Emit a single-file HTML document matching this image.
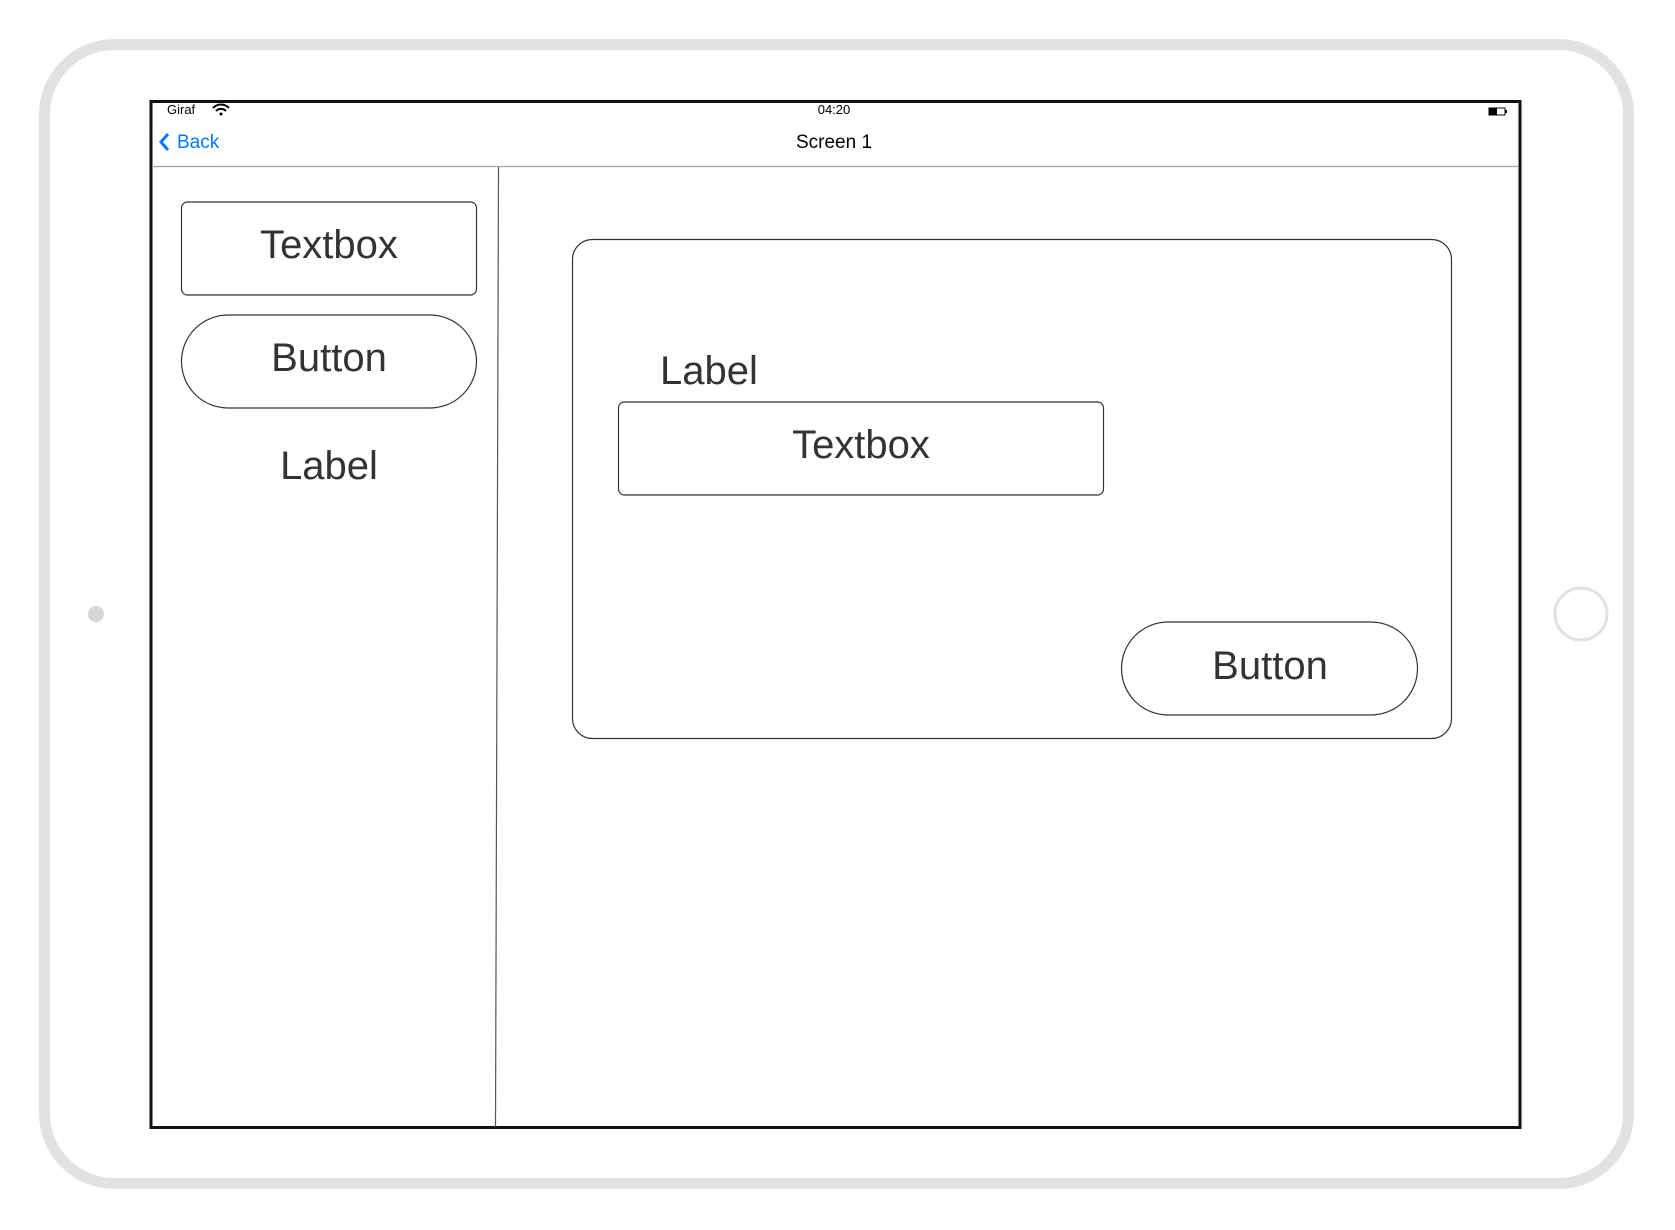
<!DOCTYPE html>
<html><head><meta charset="utf-8"><style>
html,body{margin:0;padding:0;background:#fff;width:1675px;height:1230px;overflow:hidden}
svg{display:block}
text{font-family:"Liberation Sans",Arial,sans-serif}
</style></head><body>
<svg width="1675" height="1230" viewBox="0 0 1675 1230" xmlns="http://www.w3.org/2000/svg">
<rect x="44.5" y="44.5" width="1584" height="1139" rx="70" fill="#fff" stroke="#e0e2e3" stroke-width="11"/>
<circle cx="96" cy="614" r="8" fill="#d5d7d8"/>
<circle cx="1581" cy="614" r="26" fill="#fff" stroke="#e0e2e3" stroke-width="3"/>
<rect x="151" y="101.5" width="1369" height="1026" fill="#fff" stroke="#111" stroke-width="3"/>
<text x="167" y="114" font-size="13" fill="#000">Giraf</text>
<g transform="translate(221,111)" fill="none" stroke="#000" stroke-width="2">
<path d="M-8,-3 A11,11 0 0 1 8,-3"/><path d="M-5,0 A7,7 0 0 1 5,0"/>
<circle cx="0" cy="3" r="1.5" fill="#000" stroke="none"/></g>
<text x="834" y="114" font-size="13" text-anchor="middle" fill="#000">04:20</text>
<rect x="1489" y="108" width="16" height="7" fill="#fff" stroke="#000" stroke-width="1"/>
<rect x="1489" y="108" width="8" height="7" fill="#000"/>
<rect x="1505" y="110" width="2" height="3" fill="#000"/>
<path d="M168,134 L161,142 L168,150" fill="none" stroke="#007aff" stroke-width="3"/>
<text x="177" y="148" font-size="19" fill="#007aff">Back</text>
<text x="834" y="148" font-size="19" text-anchor="middle" fill="#000">Screen 1</text>
<line x1="152" y1="166.5" x2="1519" y2="166.5" stroke="#a0a0a0" stroke-width="1.2"/>
<line x1="498.5" y1="167" x2="495.5" y2="1127" stroke="#555" stroke-width="1.2"/>
<rect x="181.5" y="202" width="295" height="93" rx="6" fill="#fff" stroke="#333" stroke-width="1.2"/>
<text x="329" y="258" font-size="40" text-anchor="middle" fill="#333">Textbox</text>
<rect x="181.5" y="315" width="295" height="93" rx="46.5" fill="#fff" stroke="#333" stroke-width="1.2"/>
<text x="329" y="371" font-size="40" text-anchor="middle" fill="#333">Button</text>
<text x="329" y="479" font-size="40" text-anchor="middle" fill="#333">Label</text>
<rect x="572.5" y="239.5" width="879" height="499" rx="20" fill="#fff" stroke="#333" stroke-width="1.2"/>
<text x="660" y="384" font-size="40" fill="#333">Label</text>
<rect x="618.5" y="402" width="485" height="93" rx="6" fill="#fff" stroke="#333" stroke-width="1.2"/>
<text x="861" y="458" font-size="40" text-anchor="middle" fill="#333">Textbox</text>
<rect x="1121.5" y="622" width="296" height="93" rx="46.5" fill="#fff" stroke="#333" stroke-width="1.2"/>
<text x="1270" y="679" font-size="40" text-anchor="middle" fill="#333">Button</text>
</svg>
</body></html>
